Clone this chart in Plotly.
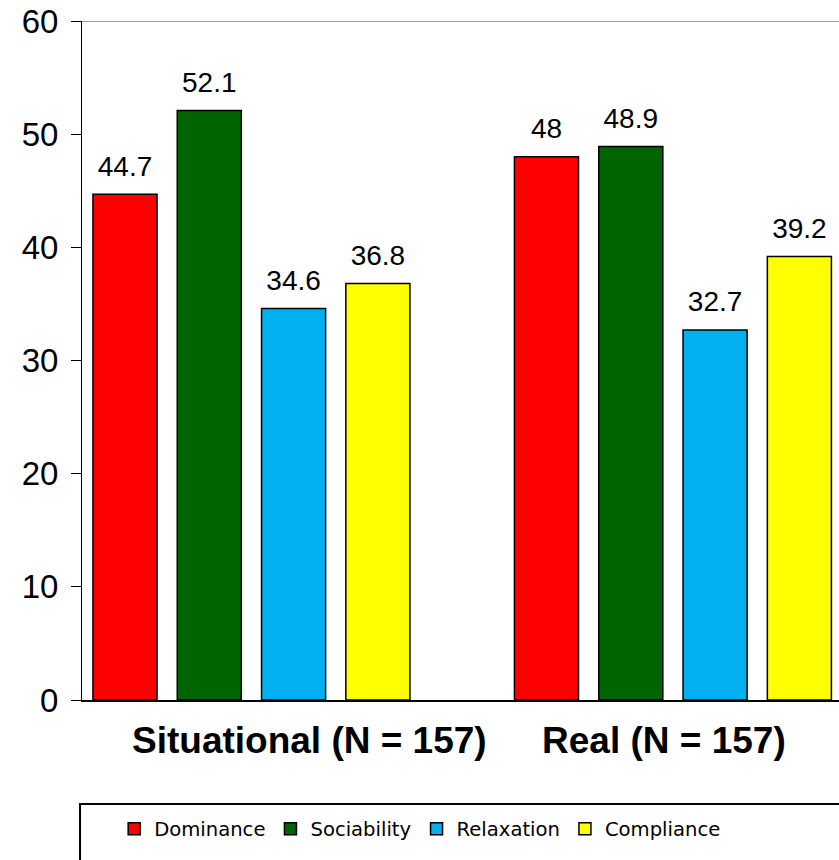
import plotly.graph_objects as go

categories = ["Situational (N = 157)", "Real (N = 157)"]
series_names = ["Dominance", "Sociability", "Relaxation", "Compliance"]
dominance = [44.7, 48]
sociability = [52.1, 48.9]
relaxation = [34.6, 32.7]
compliance = [36.8, 39.2]
y_ticks = [0, 10, 20, 30, 40, 50, 60]

series_values = [dominance, sociability, relaxation, compliance]
colors = ["#FF0000", "#006400", "#00B0F0", "#FFFF00"]

fig = go.Figure()
for name, vals, col in zip(series_names, series_values, colors):
    fig.add_trace(go.Bar(
        x=categories, y=vals, name=name,
        marker=dict(color=col, line=dict(color="black", width=1.5)),
        hoverinfo="skip",
    ))
for name, vals in zip(series_names, series_values):
    fig.add_trace(go.Scatter(
        x=categories, y=vals, mode="markers+text",
        text=[f"{v:g}" for v in vals], textposition="top center",
        textfont=dict(family="Liberation Sans, Arial", size=28, color="black"),
        marker=dict(size=17, opacity=0),
        showlegend=False, hoverinfo="skip", cliponaxis=False,
    ))

# category labels
label_shift = [58, -9]
for cat, sh in zip(categories, label_shift):
    fig.add_annotation(
        x=cat, xref="x", y=0, yref="paper", yshift=-40, xshift=sh,
        text=f"<b>{cat}</b>", showarrow=False, yanchor="middle",
        font=dict(family="Liberation Sans, Arial", size=37, color="black"),
    )

fig.add_shape(type="line", xref="paper", x0=0, x1=1, yref="y", y0=60, y1=60,
              line=dict(color="#808080", width=1.5))
# legend frame
fig.add_shape(type="rect", xref="paper", yref="paper",
              x0=-0.0026, x1=1.05, y0=-0.153, y1=-0.4,
              line=dict(color="black", width=2), fillcolor="rgba(0,0,0,0)")

fig.update_layout(
    width=839, height=860,
    margin=dict(l=82, r=0, t=21, b=160),
    paper_bgcolor="white", plot_bgcolor="white",
    barmode="group", bargap=0.2, bargroupgap=0.24,
    scattermode="group", scattergap=0.2,
    showlegend=True,
    legend=dict(orientation="h", x=0.0425, xanchor="left", y=-0.19, yanchor="middle",
                font=dict(family="DejaVu Sans", size=19.6, color="black"),
                bgcolor="rgba(0,0,0,0)", borderwidth=0, traceorder="normal"),
    xaxis=dict(range=[-0.402, 1.394], showticklabels=False, showgrid=False,
               zeroline=False, showline=True, linecolor="black", linewidth=1.5,
               ticks="", automargin=False),
    yaxis=dict(range=[0, 60], tickvals=y_ticks, showgrid=False, zeroline=False,
               showline=True, linecolor="black", linewidth=1,
               ticks="outside", ticklen=10, tickcolor="black",
               ticklabelstandoff=6, ticklabeloverflow="allow", automargin=False,
               tickfont=dict(family="Liberation Sans, Arial", size=33, color="black")),
)

fig.write_html(
    "out.html",
    config={"displayModeBar": False},
    post_script="document.body.style.margin='0';document.body.style.overflow='hidden';",
)
